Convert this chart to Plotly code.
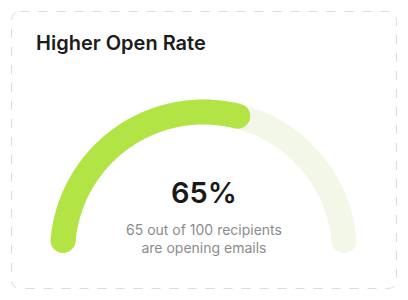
import numpy as np
import plotly.graph_objects as go

# ---- data ----
title_text = ["Higher Open Rate"]
gauge_value = [65]
gauge_total = [100]
caption_lines = ["65 out of 100 recipients", "are opening emails"]

# ---- style / layout constants ----
W, H = 408, 300
CX, CY = 203.5, 253.0          # gauge centre (px)
R = 141.0                      # midline radius (px)
BAND = 25                      # band thickness (px)
A_START, A_END = 174.9, 5.1    # cap-centre angles of the track (deg)
VALUE_SWEEP = 152.2            # degrees per 100% of value (visual calibration)
GREEN = "#b3e445"
TRACK = "#f3f7e7"

def arc(a0, a1, n=240):
    t = np.radians(np.linspace(a0, a1, n))
    return CX + R * np.cos(t), CY - R * np.sin(t)

fig = go.Figure()

def band(xs, ys, color):
    fig.add_trace(go.Scatter(x=xs, y=ys, mode="lines",
                             line=dict(color=color, width=BAND, simplify=False),
                             hoverinfo="skip", showlegend=False))
    fig.add_trace(go.Scatter(x=[xs[0], xs[-1]], y=[ys[0], ys[-1]], mode="markers",
                             marker=dict(color=color, size=BAND, line=dict(width=0)),
                             hoverinfo="skip", showlegend=False))

# track
tx, ty = arc(A_START, A_END)
band(tx, ty, TRACK)

# progress
frac = gauge_value[0] / gauge_total[0]
g_end = A_START - frac * VALUE_SWEEP
gx, gy = arc(A_START, g_end)
band(gx, gy, GREEN)

# card border (rounded, dashed)
x0, y0, x1, y1, r = 11.5, 11.5, 396.5, 288.5, 9
path = (f"M {x0+r},{y0} L {x1-r},{y0} Q {x1},{y0} {x1},{y0+r} "
        f"L {x1},{y1-r} Q {x1},{y1} {x1-r},{y1} L {x0+r},{y1} "
        f"Q {x0},{y1} {x0},{y1-r} L {x0},{y0+r} Q {x0},{y0} {x0+r},{y0} Z")
fig.add_shape(type="path", path=path, xref="x", yref="y",
              line=dict(color="#dcdcd2", width=1, dash="dash"), layer="below")

fig.add_annotation(x=34, y=43, xref="x", yref="y", text=title_text[0],
                   showarrow=False, xanchor="left", yanchor="middle",
                   font=dict(family="Inter", size=20, weight=600, color="#1c1c1c"))
fig.add_annotation(x=CX, y=192, xref="x", yref="y",
                   text=f"{gauge_value[0]}%", showarrow=False,
                   xanchor="center", yanchor="middle",
                   font=dict(family="Inter", size=29, weight=600, color="#1a1a1a"))
fig.add_annotation(x=CX, y=238, xref="x", yref="y",
                   text="<br>".join(caption_lines), showarrow=False,
                   xanchor="center", yanchor="middle",
                   font=dict(family="Inter", size=14, color="#8c8c8c"))

fig.update_layout(
    width=W, height=H, margin=dict(l=0, r=0, t=0, b=0),
    paper_bgcolor="white", plot_bgcolor="white",
    xaxis=dict(range=[0, W], visible=False, fixedrange=True),
    yaxis=dict(range=[H, 0], visible=False, fixedrange=True),
    showlegend=False,
)

fig.write_html("out.html", config={"displayModeBar": False})
